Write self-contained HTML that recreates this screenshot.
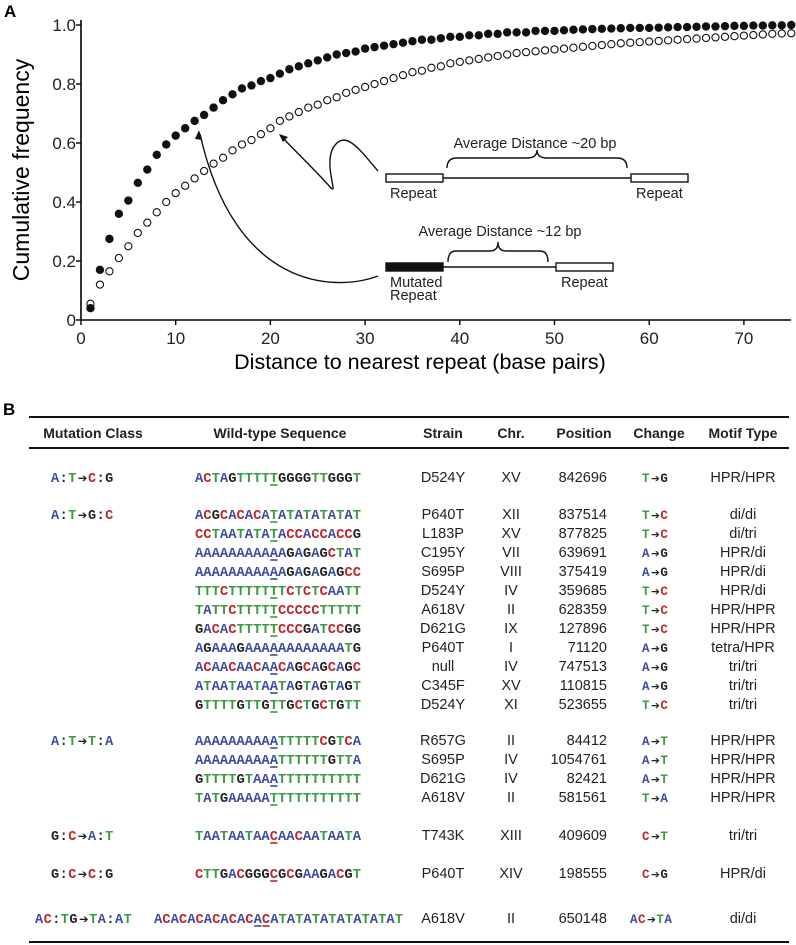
<!DOCTYPE html>
<html><head><meta charset="utf-8"><style>
html,body{margin:0;padding:0;background:#fff;}
svg{display:block;}
text{font-family:"Liberation Sans",sans-serif;}
.mono{font-family:"Liberation Mono","DejaVu Sans Mono",monospace;font-weight:bold;}
</style></head><body>
<svg id="fig" width="796" height="945" viewBox="0 0 796 945" xmlns="http://www.w3.org/2000/svg">
<text x="4" y="17" font-size="17" font-weight="bold">A</text>
<g id="chart">
<line x1="81" y1="320" x2="791" y2="320" stroke="#000" stroke-width="1.6"/>
<line x1="81" y1="20" x2="81" y2="320" stroke="#000" stroke-width="1.6"/>
<g id="xticks"></g><g id="yticks"></g>
<text x="21" y="170" font-size="23" text-anchor="middle" transform="rotate(-90 21 170)" dominant-baseline="central">Cumulative frequency</text>
<text x="420" y="362" font-size="21.5" text-anchor="middle" dominant-baseline="central">Distance to nearest repeat (base pairs)</text>
<g id="pts"></g>
<g stroke="#111" fill="none" stroke-width="1.4">
<rect x="386" y="174" width="57" height="8" fill="#fff"/>
<line x1="443" y1="178" x2="631" y2="178"/>
<rect x="631" y="174" width="57" height="8" fill="#fff"/>
<path d="M447,168 Q447,158 457,158 L527,158 Q537,158 537,150 Q537,158 547,158 L617,158 Q627,158 627,168"/>
<path d="M378,171 C360,150 345,128 333,148 C324,165 338,195 331,188 C315,170 296,152 281,136"/>
<path d="M279,134 l9,3 l-5,5 z" fill="#111" stroke="none"/>
</g>
<text x="535" y="148" font-size="14.5" text-anchor="middle" fill="#222">Average Distance ~20 bp</text>
<text x="390" y="198" font-size="14.5" fill="#222">Repeat</text>
<text x="636" y="198" font-size="14.5" fill="#222">Repeat</text>
<g stroke="#111" fill="none" stroke-width="1.4">
<rect x="386" y="263" width="57" height="8" fill="#111"/>
<line x1="443" y1="267" x2="556" y2="267"/>
<rect x="556" y="263" width="57" height="8" fill="#fff"/>
<path d="M448,262 Q448,251 456,251 L490,251 Q498,251 498,242 Q498,251 506,251 L540,251 Q548,251 548,262"/>
<path d="M378,276 C335,292 235,290 200,134"/>
<path d="M199,130 l3,10 l-7,-1 z" fill="#111" stroke="none"/>
</g>
<text x="500" y="236" font-size="14.5" text-anchor="middle" fill="#222">Average Distance ~12 bp</text>
<text x="390" y="287" font-size="14.5" fill="#222">Mutated</text>
<text x="390" y="300" font-size="14.5" fill="#222">Repeat</text>
<text x="561" y="287" font-size="14.5" fill="#222">Repeat</text>
</g>

<text x="3" y="415" font-size="17" font-weight="bold">B</text>
<g id="table">
<line x1="29" y1="417" x2="789" y2="417" stroke="#111" stroke-width="2"/>
<line x1="29" y1="448" x2="789" y2="448" stroke="#111" stroke-width="2"/>
<line x1="29" y1="942" x2="789" y2="942" stroke="#111" stroke-width="2"/>
<g font-size="14" font-weight="bold" fill="#222">
<text x="93" y="438" text-anchor="middle">Mutation Class</text>
<text x="280" y="438" text-anchor="middle">Wild-type Sequence</text>
<text x="443" y="438" text-anchor="middle">Strain</text>
<text x="511" y="438" text-anchor="middle">Chr.</text>
<text x="584" y="438" text-anchor="middle">Position</text>
<text x="659" y="438" text-anchor="middle">Change</text>
<text x="743" y="438" text-anchor="middle">Motif Type</text>
</g>
<g id="rows"></g>
</g>
</svg>
<script>
const xTicks = [0,10,20,30,40,50,60,70];
const yTicks = [0,0.2,0.4,0.6,0.8,1.0];
const yTickLabels = ["0","0.2","0.4","0.6","0.8","1.0"];
const distances = Array.from({length:75},(_,i)=>i+1);
const mutatedRepeat = [.04,.17,.275,.36,.405,.465,.51,.56,.595,.625,.65,.675,.695,.72,.745,.765,.785,.795,.81,.82,.835,.85,.86,.87,.88,.89,.90,.905,.91,.92,.925,.93,.935,.94,.945,.95,.95,.955,.96,.96,.965,.965,.97,.97,.975,.975,.975,.98,.98,.98,.982,.984,.985,.986,.987,.988,.989,.99,.99,.99,.991,.992,.993,.993,.994,.995,.995,.996,.997,.997,.998,.998,.999,.999,1.0];
const allRepeats = [.055,.12,.165,.21,.25,.295,.33,.365,.40,.43,.455,.48,.505,.53,.55,.575,.595,.61,.63,.65,.675,.69,.705,.72,.73,.745,.755,.77,.78,.79,.80,.81,.82,.83,.84,.845,.855,.86,.87,.875,.88,.885,.89,.895,.90,.905,.908,.911,.914,.917,.92,.923,.926,.929,.932,.935,.938,.94,.942,.944,.946,.948,.95,.952,.954,.956,.958,.96,.962,.964,.966,.968,.97,.971,.972];

const NS="http://www.w3.org/2000/svg";
const xs = v => 81 + v*9.47;
const ys = v => 320 - v*295;
function mk(tag, attrs, parent){const e=document.createElementNS(NS,tag);for(const k in attrs)e.setAttribute(k,attrs[k]);parent.appendChild(e);return e;}
const gx=document.getElementById('xticks'), gy=document.getElementById('yticks'), gp=document.getElementById('pts');
xTicks.forEach(t=>{
  const l=mk('line',{x1:xs(t),x2:xs(t),y1:320,y2:325,stroke:'#000','stroke-width':1.4},gx);
  
  
  const tx=mk('text',{x:xs(t),y:344,'font-size':17,'text-anchor':'middle',fill:'#222'},gx);
  tx.textContent=t;
  
  
});
yTicks.forEach((t,i)=>{
  const l=mk('line',{x1:76,x2:81,y1:ys(t),y2:ys(t),stroke:'#000','stroke-width':1.4},gy);
  
  
  const tx=mk('text',{x:76,y:ys(t)+6,'font-size':17,'text-anchor':'end',fill:'#222'},gy);
  tx.textContent=yTickLabels[i];
  
  
});
distances.forEach((d,i)=>{
  const o=mk('circle',{cx:xs(d),cy:ys(allRepeats[i]),r:3.6,fill:'#fff',stroke:'#111','stroke-width':1.1},gp);
  
  
});
distances.forEach((d,i)=>{
  const f=mk('circle',{cx:xs(d),cy:ys(mutatedRepeat[i]),r:4.2,fill:'#111'},gp);
  
  
});

// table
const COL={A:'#3b4a9e',C:'#c0272d',G:'#231f20',T:'#3c9a43'};
const rows=[
 [477,"A:T>C:G","ACTAGTTTTTGGGGTTGGGT",[9],"D524Y","XV","842696","T>G","HPR/HPR",51,195],
 [514,"A:T>G:C","ACGCACACATATATATATAT",[9],"P640T","XII","837514","T>C","di/di",51,195],
 [533,"","CCTAATATATACCACCACCG",[9],"L183P","XV","877825","T>C","di/tri",51,195],
 [552,"","AAAAAAAAAAAGAGAGCTAT",[9],"C195Y","VII","639691","A>G","HPR/di",51,195],
 [571,"","AAAAAAAAAAAGAGAGAGCC",[9],"S695P","VIII","375419","A>G","HPR/di",51,195],
 [590,"","TTTCTTTTTTTCTCTCAATT",[9],"D524Y","IV","359685","T>C","HPR/di",51,195],
 [609,"","TATTCTTTTTCCCCCTTTTT",[9],"A618V","II","628359","T>C","HPR/HPR",51,195],
 [628,"","GACACTTTTTCCCGATCCGG",[9],"D621G","IX","127896","T>C","HPR/HPR",51,195],
 [647,"","AGAAAGAAAAAAAAAAAATG",[9],"P640T","I","71120","A>G","tetra/HPR",51,195],
 [666,"","ACAACAACAACAGCAGCAGC",[9],"null","IV","747513","A>G","tri/tri",51,195],
 [685,"","ATAATAATAATAGTAGTAGT",[9],"C345F","XV","110815","A>G","tri/tri",51,195],
 [704,"","GTTTTGTTGTTGCTGCTGTT",[9],"D524Y","XI","523655","T>C","tri/tri",51,195],
 [740,"A:T>T:A","AAAAAAAAAATTTTTCGTCA",[9],"R657G","II","84412","A>T","HPR/HPR",51,195],
 [759,"","AAAAAAAAAATTTTTTGTTA",[9],"S695P","IV","1054761","A>T","HPR/HPR",51,195],
 [778,"","GTTTTGTAAATTTTTTTTTT",[9],"D621G","IV","82421","A>T","HPR/HPR",51,195],
 [797,"","TATGAAAAATTTTTTTTTTT",[9],"A618V","II","581561","T>A","HPR/HPR",51,195],
 [835,"G:C>A:T","TAATAATAACAACAATAATA",[9],"T743K","XIII","409609","C>T","tri/tri",51,195],
 [873,"G:C>C:G","CTTGACGGGCGCGAAGACGT",[9],"P640T","XIV","198555","C>G","HPR/di",51,195],
 [918,"AC:TG>TA:AT","ACACACACACACACATATATATATATATAT",[12,13],"A618V","II","650148","AC>TA","di/di",35,154]
];
const gr=document.getElementById('rows');
const CW=8.3;
function colored(str,x,y,parent,fs,cw){
  const t=mk('text',{x:x,y:y,'font-size':fs,'class':'mono'},parent);
  let cx=x;
  for(const ch of str){
    if(ch==='>'){
      const s=mk('tspan',{x:cx+1,fill:'#222','font-size':fs*0.85,'font-family':'DejaVu Sans'},t);s.textContent='➔';cx+=cw*1.3;continue;
    }
    if(ch===':'){const s=mk('tspan',{x:cx,fill:'#222'},t);s.textContent=':';cx+=cw;continue;}
    const s=mk('tspan',{x:cx,fill:COL[ch]||'#222'},t);s.textContent=ch;cx+=cw;
  }
  return t;
}
rows.forEach(r=>{
  const [y,cls,seq,ul,strain,chr,pos,chg,motif,cx0,sx0]=r;
  const g=mk('g',{},gr);
  
  
  if(cls){
    const c=colored(cls,cx0,y+5,g,13.5,8.6);
    
    
  }
  const st=mk('text',{x:sx0,y:y+5,'font-size':13.8,'class':'mono'},g);
  
  
  [...seq].forEach((ch,i)=>{const s=mk('tspan',{x:sx0+i*CW,fill:COL[ch]},st);s.textContent=ch;});
  ul.forEach(i=>{
    const l=mk('line',{x1:sx0+i*CW+0.5,x2:sx0+i*CW+CW-0.5,y1:y+8,y2:y+8,stroke:COL[seq[i]],'stroke-width':1.6},g);
    
    
  });
  const cells=[[strain,443,'middle','strain'],[chr,511,'middle','chromosome'],[pos,607,'end','position'],[motif,743,'middle','motif-type']];
  cells.forEach(([v,x,a,n])=>{
    const t=mk('text',{x:x,y:y+5,'font-size':14.5,'text-anchor':a,fill:'#222'},g);
    t.textContent=v;
    
    
  });
  const w=chg.length>3?58:34;
  const c=colored(chg,659-w/2,y+5,g,12.5,8);
  
  
});
</script>
</body></html>
